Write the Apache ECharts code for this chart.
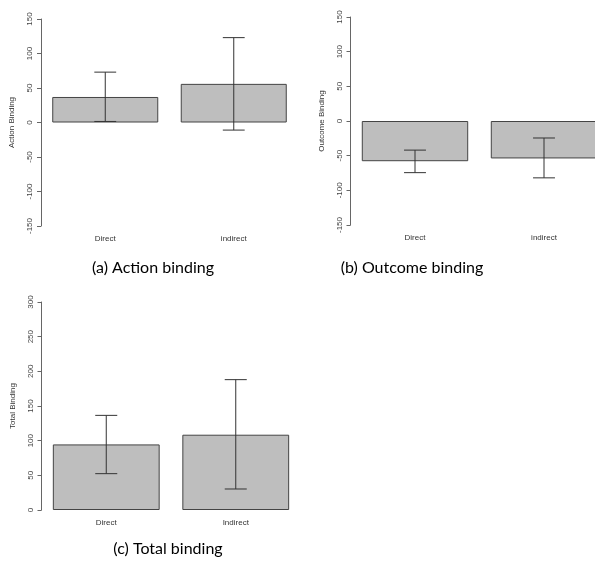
<!DOCTYPE html>
<html>
<head>
<meta charset="utf-8">
<script src="https://cdn.jsdelivr.net/npm/echarts@6/dist/echarts.min.js"></script>
<style>
html,body{margin:0;padding:0;background:#fff;overflow:hidden;width:595px;height:561px;}
#chart{width:625px;height:561px;}
</style>
</head>
<body>
<div id="chart"></div>
<script>
// ---- data ----
const categoriesAB = ['Direct', 'indirect'];
const categoriesC = ['Direct', 'Indirect'];
const actionMean = [37, 56];
const actionLow = [1.5, -11];
const actionHigh = [73, 123];
const outcomeMean = [-58, -54];
const outcomeLow = [-74.5, -82];
const outcomeHigh = [-42, -24.5];
const totalMean = [94.6, 108.6];
const totalLow = [52.4, 30.3];
const totalHigh = [136.5, 188];
const yTicksAB = [-150, 150, 50];   // min, max, interval
const yTicksC = [0, 300, 50];
const captions = ['(a) Action binding', '(b) Outcome binding', '(c) Total binding'];
const yNames = ['Action Binding', 'Outcome Binding', 'Total Binding'];

const chart = echarts.init(document.getElementById('chart'), null, {renderer: 'canvas'});

const grids = [
  {left: 41, top: 19, width: 257, height: 207},
  {left: 350.5, top: 17, width: 258, height: 208},
  {left: 41.5, top: 302, width: 259, height: 208}
];

const labelFont = 'Liberation Sans, Arial, sans-serif';

function xAxisFor(i, cats) {
  return {
    type: 'category', gridIndex: i, data: cats,
    axisLine: {show: false, onZero: false},
    axisTick: {show: false},
    axisLabel: {color: '#333', fontSize: 8, fontFamily: labelFont, margin: 9},
    splitLine: {show: false}
  };
}
function yAxisFor(i, t, name) {
  return {
    type: 'value', gridIndex: i, min: t[0], max: t[1], interval: t[2],
    name: name, nameLocation: 'middle', nameGap: 25, nameRotate: 90,
    nameTextStyle: {color: '#333', fontSize: 8, fontFamily: labelFont},
    axisLine: {show: true, onZero: false, lineStyle: {color: '#666', width: 1}},
    axisTick: {show: true, length: 4, lineStyle: {color: '#666'}},
    axisLabel: {color: '#444', fontSize: 8, fontFamily: labelFont, rotate: 90, margin: 7},
    splitLine: {show: false}
  };
}

function barSeries(i, vals) {
  return {
    type: 'bar', xAxisIndex: i, yAxisIndex: i, data: vals,
    barCategoryGap: '17.5%',
    itemStyle: {color: '#bebebe', borderColor: '#444', borderWidth: 1},
    silent: true, animation: false
  };
}
function errSeries(i, lo, hi) {
  const data = lo.map((l, k) => [k, l, hi[k]]);
  return {
    type: 'custom', xAxisIndex: i, yAxisIndex: i, data: data, z: 10,
    animation: false, silent: true,
    renderItem: function (params, api) {
      const x = api.value(0);
      const pLo = api.coord([x, api.value(1)]);
      const pHi = api.coord([x, api.value(2)]);
      const half = api.size([1, 0])[0] * 0.085;
      const style = {stroke: '#333', lineWidth: 1};
      return {
        type: 'group',
        children: [
          {type: 'line', shape: {x1: pLo[0], y1: pLo[1], x2: pHi[0], y2: pHi[1]}, style: style},
          {type: 'line', shape: {x1: pLo[0] - half, y1: pLo[1], x2: pLo[0] + half, y2: pLo[1]}, style: style},
          {type: 'line', shape: {x1: pHi[0] - half, y1: pHi[1], x2: pHi[0] + half, y2: pHi[1]}, style: style}
        ]
      };
    }
  };
}

const captionFont = 'Lato, "Open Sans", sans-serif';
const capPos = [[153, 268], [412, 268], [168, 549]];

chart.setOption({
  animation: false,
  backgroundColor: '#fff',
  grid: grids,
  xAxis: [xAxisFor(0, categoriesAB), xAxisFor(1, categoriesAB), xAxisFor(2, categoriesC)],
  yAxis: [yAxisFor(0, yTicksAB, yNames[0]), yAxisFor(1, yTicksAB, yNames[1]), yAxisFor(2, yTicksC, yNames[2])],
  series: [
    barSeries(0, actionMean), errSeries(0, actionLow, actionHigh),
    barSeries(1, outcomeMean), errSeries(1, outcomeLow, outcomeHigh),
    barSeries(2, totalMean), errSeries(2, totalLow, totalHigh)
  ],
  graphic: captions.map((c, k) => ({
    type: 'text', x: capPos[k][0], y: capPos[k][1],
    style: {text: c, fill: '#000', font: '16px ' + captionFont, textAlign: 'center', textVerticalAlign: 'middle'}
  }))
});
</script>
</body>
</html>
